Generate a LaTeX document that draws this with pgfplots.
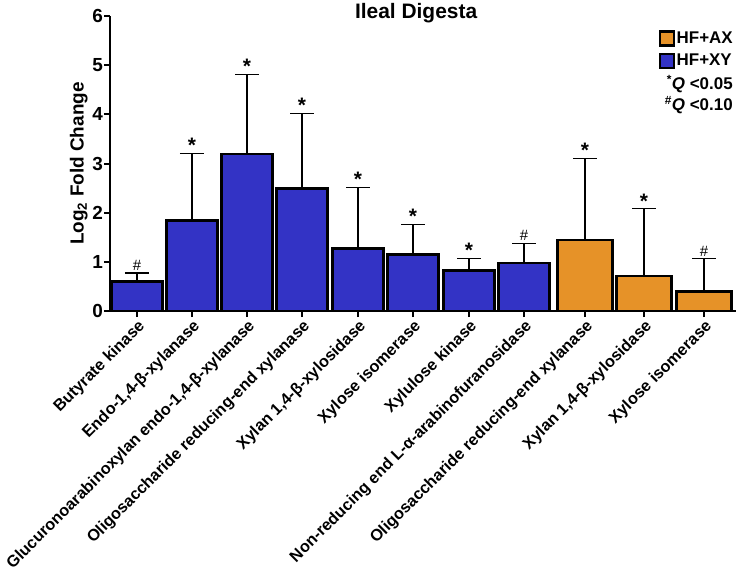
\documentclass[border=0pt]{standalone}
\usepackage{pgfplots}
\pgfplotsset{compat=1.18}
\usepackage{fontspec}
\setmainfont{Liberation Sans}

\definecolor{barblue}{RGB}{51,51,197}
\definecolor{barorange}{RGB}{230,146,40}

% x positions are in picture pixels, so bars keep the reference spacing
\pgfplotstableread{
x     y     err
137   0.60  0.17
192   1.84  1.37
247   3.19  1.62
302   2.49  1.53
358   1.27  1.24
413   1.15  0.61
469   0.82  0.25
524   0.98  0.40
}\xydata
\pgfplotstableread{
x     y     err
585   1.45  1.65
644   0.71  1.37
704   0.40  0.67
}\axdata
% tops of the error bars, for the significance marks
\pgfplotstableread{
x     top
192   3.21
247   4.81
302   4.02
358   2.51
413   1.76
469   1.07
585   3.10
644   2.08
}\stardata
\pgfplotstableread{
x     top
137   0.77
524   1.38
704   1.07
}\hashdata

\begin{document}
\begin{tikzpicture}
\path[use as bounding box] (-110bp,-262bp) rectangle (628bp,311bp);
\begin{axis}[
    at={(0,0)}, anchor=south west,
    scale only axis,
    width=626bp, height=295bp,
    xmin=110, xmax=736,
    ymin=0, ymax=6,
    axis x line*=bottom, axis y line*=left,
    axis line style={line width=2.4bp, -},
    tick style={black, line width=2bp},
    major tick length=6bp,
    tick align=outside,
    ytick={0,1,...,6},
    yticklabel style={font=\fontsize{19}{19}\selectfont\bfseries, inner sep=1bp},
    /pgf/number format/assume math mode=true,
    xtick={137,192,247,302,358,413,469,524,585,644,704},
    xticklabels={Butyrate kinase,
        Endo-1{,}4-β-xylanase,
        Glucuronoarabinoxylan endo-1{,}4-β-xylanase,
        Oligosaccharide reducing-end xylanase,
        Xylan 1{,}4-β-xylosidase,
        Xylose isomerase,
        Xylulose kinase,
        Non-reducing end L-α-arabinofuranosidase,
        Oligosaccharide reducing-end xylanase,
        Xylan 1{,}4-β-xylosidase,
        Xylose isomerase},
    xticklabel style={rotate=45, anchor=north east, inner sep=1bp,
        font=\fontsize{16.3}{16.3}\selectfont\bfseries},
    ylabel={Log\textsubscript{2} Fold Change},
    ylabel style={font=\fontsize{19}{19}\selectfont\bfseries,
        at={(rel axis cs:-0.05,0.5)}, anchor=center},
    clip=false,
    legend style={at={(rel axis cs:1.003,0.96)}, anchor=north east, draw=none,
        fill=none, font=\fontsize{17}{17}\selectfont\bfseries,
        row sep=5bp, nodes={inner sep=2bp}},
    legend cell align=left,
    legend image code/.code={\draw[#1, line width=2.2bp] (-2bp,-7bp) rectangle (12bp,7bp);},
]
\addplot[ybar, bar width=55, fill=barorange, draw=black, line width=2.4bp,
    error bars/.cd, y dir=plus, y explicit,
    error bar style={line width=1.3bp, black},
    error mark options={line width=1.3bp, black, mark size=12bp, rotate=90}]
    table[x=x, y=y, y error=err] {\axdata};
\addlegendentry{HF+AX}
\addplot[ybar, bar width=51, fill=barblue, draw=black, line width=2.4bp,
    error bars/.cd, y dir=plus, y explicit,
    error bar style={line width=1.3bp, black},
    error mark options={line width=1.3bp, black, mark size=12bp, rotate=90}]
    table[x=x, y=y, y error=err] {\xydata};
\addlegendentry{HF+XY}
\addplot[only marks, mark=none, nodes near coords={\bfseries *},
    every node near coord/.style={anchor=south, inner sep=0.5bp,
        font=\fontsize{21}{21}\selectfont}, forget plot]
    table[x=x, y=top] {\stardata};
\addplot[only marks, mark=none, nodes near coords={\#},
    every node near coord/.style={anchor=south, inner sep=2bp,
        font=\fontsize{15}{15}\selectfont}, forget plot]
    table[x=x, y=top] {\hashdata};
\node[anchor=east, font=\fontsize{17}{17}\selectfont\bfseries, inner sep=0pt]
    at (rel axis cs:0.995,0.77) {\textsuperscript{*}\textit{Q} <0.05};
\node[anchor=east, font=\fontsize{17}{17}\selectfont\bfseries, inner sep=0pt]
    at (rel axis cs:0.995,0.698) {\textsuperscript{\#}\textit{Q} <0.10};
\node[font=\fontsize{21}{21}\selectfont\bfseries] at (rel axis cs:0.489,1.01) {Ileal Digesta};
\end{axis}
\end{tikzpicture}
\end{document}
